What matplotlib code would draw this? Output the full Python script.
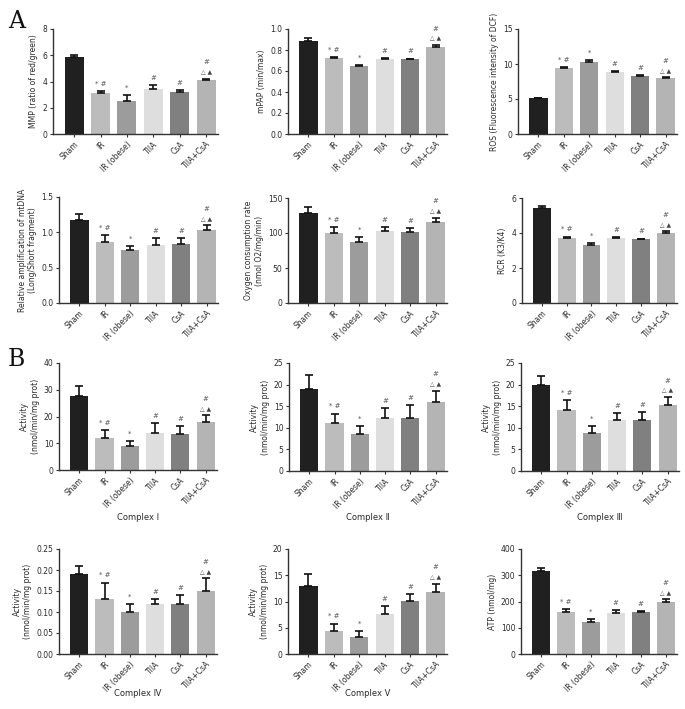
import numpy as np
import matplotlib
matplotlib.use("Agg")
import matplotlib.pyplot as plt

plt.rcParams['font.family'] = ['DejaVu Sans', 'Noto Sans CJK SC']

W, H = 685, 709

groups = ["Sham", "IR", "IR (obese)", "TIIA", "CsA", "TIIA+CsA"]
bar_colors = ["#202020", "#bcbcbc", "#9c9c9c", "#dedede", "#808080", "#b4b4b4"]
marks = ["", "* #", "*", "#", "#", "#"]

mmp = [5.9, 3.1, 2.5, 3.4, 3.2, 4.1]
mmp_err = [0.15, 0.15, 0.45, 0.3, 0.12, 0.12]
mpap = [0.89, 0.72, 0.65, 0.71, 0.71, 0.83]
mpap_err = [0.02, 0.015, 0.008, 0.012, 0.008, 0.02]
ros = [5.1, 9.4, 10.3, 8.8, 8.3, 8.0]
ros_err = [0.1, 0.15, 0.25, 0.15, 0.1, 0.1]
mtdna = [1.17, 0.86, 0.75, 0.82, 0.84, 1.03]
mtdna_err = [0.09, 0.1, 0.06, 0.1, 0.08, 0.07]
ocr = [129, 100, 87, 103, 101, 116]
ocr_err = [8, 8, 8, 6, 6, 6]
rcr = [5.45, 3.72, 3.3, 3.7, 3.63, 4.0]
rcr_err = [0.08, 0.08, 0.12, 0.05, 0.05, 0.1]
c1 = [27.5, 12.0, 9.0, 14.0, 13.5, 18.0]
c1_err = [4.0, 3.0, 2.0, 3.5, 3.0, 2.5]
c2 = [19.0, 11.0, 8.5, 12.2, 12.3, 16.0]
c2_err = [3.3, 2.3, 2.0, 2.3, 3.0, 2.6]
c3 = [19.8, 14.2, 8.7, 11.8, 11.7, 15.2]
c3_err = [2.2, 2.2, 1.7, 1.6, 2.0, 2.0]
c4 = [0.19, 0.13, 0.10, 0.12, 0.12, 0.15]
c4_err = [0.02, 0.04, 0.02, 0.01, 0.02, 0.03]
c5 = [13.0, 4.4, 3.3, 7.7, 10.1, 11.8]
c5_err = [2.3, 1.4, 1.1, 1.5, 1.3, 1.6]
atp = [318, 160, 123, 157, 160, 200]
atp_err = [10, 12, 10, 10, 5, 8]

# (values, errors, ylabel, ymax, ystep, xlabel, pixel box x0, x1, ytop, ybottom, xlabel y)
panels = [
    (mmp, mmp_err, "MMP (ratio of red/green)", 8, 2, None, 53, 218, 29, 134, 0),
    (mpap, mpap_err, "mPAP (min/max)", 1.0, 0.2, None, 288, 447, 29, 134, 0),
    (ros, ros_err, "ROS (Fluorescence intensity of DCF)", 15, 5, None, 518, 677, 29, 134, 0),
    (mtdna, mtdna_err, "Relative amplification of mtDNA\n(Long/Short fragment)", 1.5, 0.5, None, 59, 218, 197, 303, 0),
    (ocr, ocr_err, "Oxygen consumption rate\n(nmol O2/mg/min)", 150, 50, None, 288, 447, 198, 303, 0),
    (rcr, rcr_err, "RCR (K3/K4)", 6, 2, None, 522, 677, 198, 303, 0),
    (c1, c1_err, "Activity\n(nmol/min/mg prot)", 40, 10, "Complex \u2160", 59, 217, 363, 470, 517),
    (c2, c2_err, "Activity\n(nmol/min/mg prot)", 25, 5, "Complex \u2161", 289, 447, 363, 471, 517),
    (c3, c3_err, "Activity\n(nmol/min/mg prot)", 25, 5, "Complex \u2162", 521, 679, 363, 471, 517),
    (c4, c4_err, "Activity\n(nmol/min/mg prot)", 0.25, 0.05, "Complex \u2163", 59, 217, 549, 654, 693),
    (c5, c5_err, "Activity\n(nmol/min/mg prot)", 20, 5, "Complex \u2164", 288, 447, 549, 654, 693),
    (atp, atp_err, "ATP (nmol/mg)", 400, 100, None, 521, 677, 549, 654, 0),
]

fig = plt.figure(figsize=(W / 100, H / 100), dpi=100)
text_color = "#2a2a2a"

for vals, errs, ylab, ymax, ystep, xlab, x0, x1, yt, yb, xly in panels:
    ax = fig.add_axes([x0 / W, 1 - yb / H, (x1 - x0) / W, (yb - yt) / H])
    x = np.arange(len(groups))
    ax.bar(x, vals, width=0.72, color=bar_colors, edgecolor="none", zorder=2)
    ax.errorbar(x, vals, yerr=[np.zeros(len(vals)), errs], fmt="none",
                ecolor="#111111", elinewidth=1.2, capsize=3, capthick=1.2, zorder=3)
    for i, m in enumerate(marks):
        top = vals[i] + errs[i]
        if i == 5:
            ax.annotate("\u25b3 \u25b2", (x[i], top), xytext=(0, 3), textcoords="offset points",
                        ha="center", va="bottom", fontsize=4.3, color="#444444")
            ax.annotate(m, (x[i], top), xytext=(0, 9.5), textcoords="offset points",
                        ha="center", va="bottom", fontsize=5, color="#555555")
        elif m:
            ax.annotate(m, (x[i], top), xytext=(0, 3), textcoords="offset points",
                        ha="center", va="bottom", fontsize=5, color="#555555")
    ax.set_xlim(-0.8, 5.45)
    ax.set_ylim(0, ymax)
    ticks = np.arange(0, ymax + ystep / 2, ystep)
    ax.set_yticks(ticks)
    if ystep < 0.1:
        ax.set_yticklabels(["%.2f" % t for t in ticks])
    elif ystep < 1:
        ax.set_yticklabels(["%.1f" % t for t in ticks])
    ax.set_xticks(x)
    ax.set_xticklabels(groups, rotation=45, ha="right", rotation_mode="anchor")
    for s in ["top", "right"]:
        ax.spines[s].set_visible(False)
    for s in ["left", "bottom"]:
        ax.spines[s].set_linewidth(1.0)
        ax.spines[s].set_color("#333333")
    ax.tick_params(axis="both", direction="out", length=2.5, width=0.8,
                   labelsize=5.5, colors="#333333", labelcolor=text_color, pad=1.5)
    ax.set_ylabel(ylab, fontsize=5.5, color=text_color, labelpad=3)
    if xlab:
        fig.text((x0 + x1) / 2 / W, 1 - xly / H, xlab, fontsize=6, color=text_color,
                 ha="center", va="center")

fig.text(8 / W, 1 - 28 / H, "A", fontsize=17, family="DejaVu Serif", color="#111111")
fig.text(8 / W, 1 - 366 / H, "B", fontsize=17, family="DejaVu Serif", color="#111111")

fig.savefig("out.png", dpi=100, facecolor="white")
